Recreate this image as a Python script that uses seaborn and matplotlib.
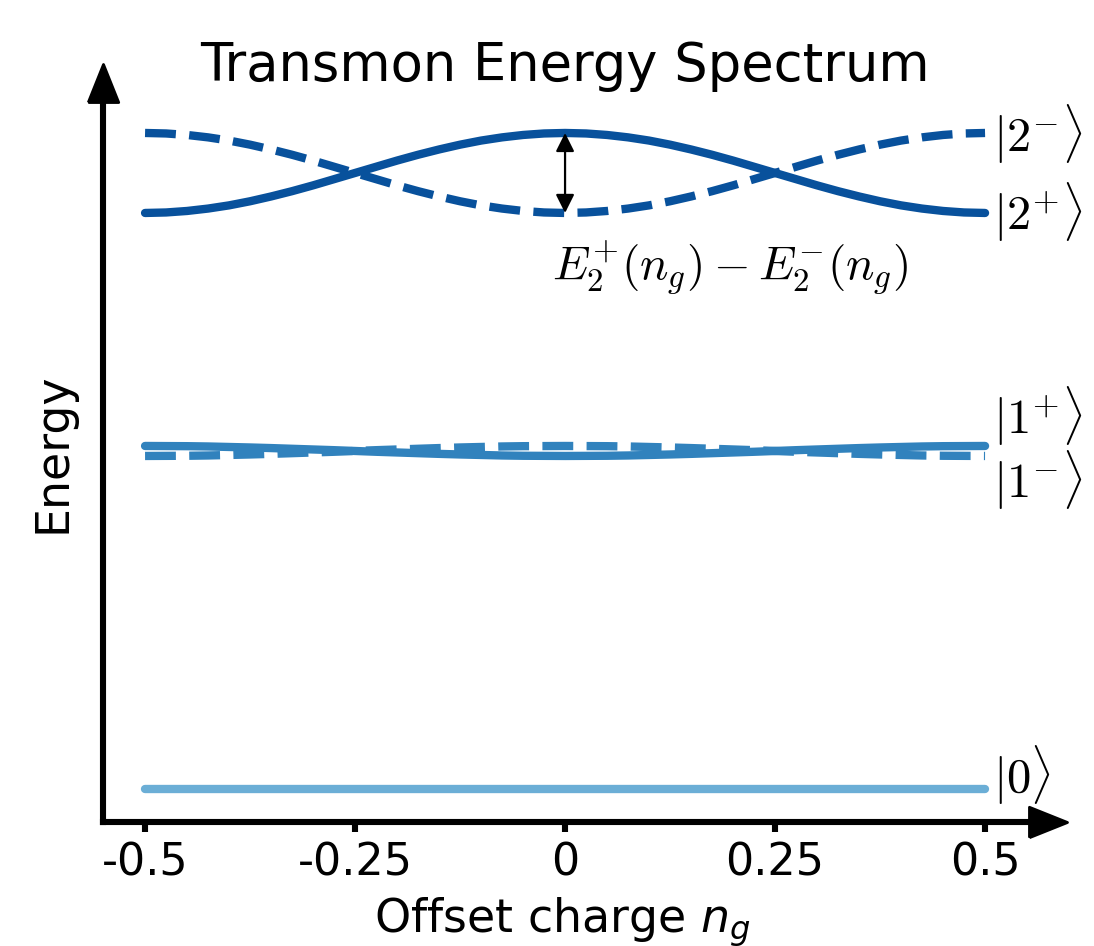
import numpy as np
import pandas as pd
import matplotlib
matplotlib.use("Agg")
import matplotlib.pyplot as plt
import seaborn as sns

# offset charge samples
ng = [-0.5, -0.475, -0.45, -0.425, -0.4, -0.375, -0.35, -0.325, -0.3, -0.275,
      -0.25, -0.225, -0.2, -0.175, -0.15, -0.125, -0.1, -0.075, -0.05, -0.025,
      0.0, 0.025, 0.05, 0.075, 0.1, 0.125, 0.15, 0.175, 0.2, 0.225,
      0.25, 0.275, 0.3, 0.325, 0.35, 0.375, 0.4, 0.425, 0.45, 0.475, 0.5]

# energy levels (arbitrary units)
E0 = [0.0] * 41
E1_plus = [3.430, 3.429, 3.428, 3.425, 3.420, 3.415, 3.409, 3.402, 3.395, 3.388,
           3.380, 3.372, 3.365, 3.358, 3.351, 3.345, 3.340, 3.335, 3.332, 3.331,
           3.330, 3.331, 3.332, 3.335, 3.340, 3.345, 3.351, 3.358, 3.365, 3.372,
           3.380, 3.388, 3.395, 3.402, 3.409, 3.415, 3.420, 3.425, 3.428, 3.429, 3.430]
E1_minus = [3.330, 3.331, 3.332, 3.335, 3.340, 3.345, 3.351, 3.358, 3.365, 3.372,
            3.380, 3.388, 3.395, 3.402, 3.409, 3.415, 3.420, 3.425, 3.428, 3.429,
            3.430, 3.429, 3.428, 3.425, 3.420, 3.415, 3.409, 3.402, 3.395, 3.388,
            3.380, 3.372, 3.365, 3.358, 3.351, 3.345, 3.340, 3.335, 3.332, 3.331, 3.330]
E2_plus = [5.760, 5.765, 5.780, 5.804, 5.836, 5.877, 5.925, 5.978, 6.036, 6.098,
           6.160, 6.222, 6.284, 6.342, 6.395, 6.443, 6.484, 6.516, 6.540, 6.555,
           6.560, 6.555, 6.540, 6.516, 6.484, 6.443, 6.395, 6.342, 6.284, 6.222,
           6.160, 6.098, 6.036, 5.978, 5.925, 5.877, 5.836, 5.804, 5.780, 5.765, 5.760]
E2_minus = [6.560, 6.555, 6.540, 6.516, 6.484, 6.443, 6.395, 6.342, 6.284, 6.222,
            6.160, 6.098, 6.036, 5.978, 5.925, 5.877, 5.836, 5.804, 5.780, 5.765,
            5.760, 5.765, 5.780, 5.804, 5.836, 5.877, 5.925, 5.978, 6.036, 6.098,
            6.160, 6.222, 6.284, 6.342, 6.395, 6.443, 6.484, 6.516, 6.540, 6.555, 6.560]

tick_pos = [-0.5, -0.25, 0, 0.25, 0.5]
tick_labels = ['-0.5', '-0.25', '0', '0.25', '0.5']

# state labels and where they sit
state_labels = [r'$|2^{-}\rangle$', r'$|2^{+}\rangle$', r'$|1^{+}\rangle$',
                r'$|1^{-}\rangle$', r'$|0\rangle$']
state_label_y = [6.55, 5.77, 3.73, 3.09, 0.14]

blues = {'2': '#08519c', '1': '#3182bd', '0': '#6baed6'}

sns.set_style('ticks')
plt.rcParams['font.family'] = ['DejaVu Sans']
plt.rcParams['font.size'] = 16
for key in ['text.color', 'axes.labelcolor', 'xtick.color', 'ytick.color', 'axes.edgecolor']:
    plt.rcParams[key] = 'black'

fig = plt.figure(figsize=(5.47, 4.73), dpi=200)
ax = fig.add_axes([0.0942, 0.1311, 0.8638, 0.7812])

lw = 3
sns.lineplot(x=ng, y=E0, color=blues['0'], lw=lw, ax=ax)
sns.lineplot(x=ng, y=E1_plus, color=blues['1'], lw=lw, ax=ax)
sns.lineplot(x=ng, y=E1_minus, color=blues['1'], lw=lw, linestyle='--', ax=ax)
sns.lineplot(x=ng, y=E2_plus, color=blues['2'], lw=lw, ax=ax)
sns.lineplot(x=ng, y=E2_minus, color=blues['2'], lw=lw, linestyle='--', ax=ax)

ax.set_xlim(-0.55, 0.575)
ax.set_ylim(-0.33, 7.06)

# axes styling: only left/bottom with arrow heads
for s in ['top', 'right']:
    ax.spines[s].set_visible(False)
for s in ['left', 'bottom']:
    ax.spines[s].set_linewidth(2.2)
ax.set_yticks([])
ax.set_xticks(tick_pos)
ax.set_xticklabels(tick_labels, fontsize=16)
ax.tick_params(axis='x', width=2.2, length=3.5, direction='out')
ax.set_xlabel(r'Offset charge $n_g$', fontsize=16.5)
ax.xaxis.label.set_x(0.486)
ax.set_ylabel('Energy', fontsize=16.5, labelpad=10)

xhead = [(-1, -0.8), (1, 0), (-1, 0.8), (-1, -0.8)]
yhead = [(-0.8, -1), (0, 1), (0.8, -1), (-0.8, -1)]
ax.plot(1, 0, marker=xhead, ms=13.7, color='k', transform=ax.transAxes, clip_on=False, zorder=5)
ax.plot(0, 1, marker=yhead, ms=13.7, color='k', transform=ax.transAxes, clip_on=False, zorder=5)

# state labels
for lab, y in zip(state_labels, state_label_y):
    ax.text(0.51, y, lab, ha='left', va='center', fontsize=17.5,
            math_fontfamily='cm', clip_on=False)

# splitting arrow and annotation
ax.annotate('', xy=(0, 5.76), xytext=(0, 6.56),
            arrowprops=dict(arrowstyle='<|-|>', color='k', lw=0.8,
                            shrinkA=0, shrinkB=0, mutation_scale=14))
ax.text(-0.015, 5.21, r'$E_2^{+}(n_g) - E_2^{-}(n_g)$', ha='left', va='center',
        fontsize=17, math_fontfamily='cm')

ax.text(0, 7.08, 'Transmon Energy Spectrum', ha='center', va='baseline',
        fontsize=19, clip_on=False)

fig.savefig('out.png', dpi=200)
